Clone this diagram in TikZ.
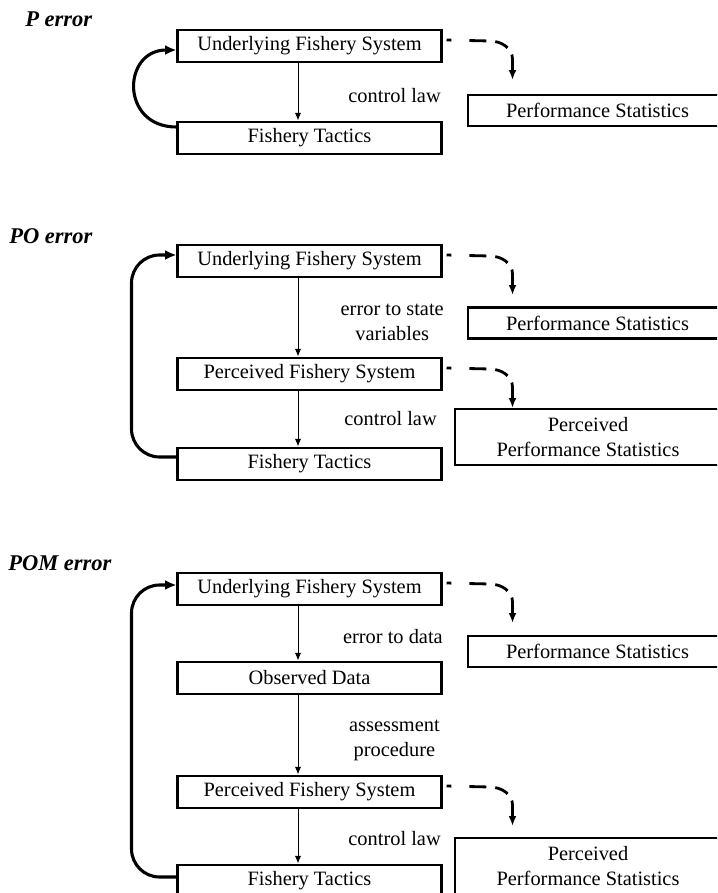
\documentclass[tikz,border=0pt]{standalone}
\usepackage{fontspec}
\setmainfont{Liberation Serif}
\usetikzlibrary{arrows.meta}

\begin{document}
\begin{tikzpicture}[x=0.025cm, y=-0.025cm,
		every node/.style={font=\fontsize{14.5}{17.7}\selectfont},
		sysbox/.style={draw, line width=2.1pt, minimum width=6.575cm, minimum height=0.8cm, inner sep=0pt},
		statbox/.style={draw, line width=2pt, minimum width=6.475cm, minimum height=0.775cm, inner sep=0pt},
		pstatbox/.style={statbox, minimum width=6.65cm, minimum height=1.4cm, align=center},
		flow/.style={line width=0.7pt, -{Latex[length=5.5pt,width=4.5pt]}},
		feedback/.style={line width=2.2pt, rounded corners=20pt, -{Latex[length=8pt,width=7pt]}},
		perfarrow/.style={line width=2pt, dash pattern=on 3.5pt off 12.8pt on 12pt off 6.4pt on 10pt off 5.7pt on 30pt, -{Latex[length=7pt,width=5.5pt]}},
		lbl/.style={inner sep=0pt, anchor=base east, align=center},
		errlbl/.style={inner sep=0pt, anchor=base west, font=\fontsize{16}{19}\selectfont\bfseries\itshape}]
		\useasboundingbox (0,0) rectangle (717,893);
		\clip (0,0) rectangle (717,893);
		\coordinate (axis) at (298,0);
		% P error
		\node [errlbl] (perr) at (25,27) {P error};
		\node [sysbox] (ufs1) at (309.5,46) {Underlying Fishery System};
		\node [sysbox] (ft1) at (309.5,138) {Fishery Tactics};
		\node [statbox] (perf1) at (597.5,110.5) {Performance Statistics};
		\node [lbl] (cl1) at (441,103) {control law};
		\draw [flow] (ufs1.south -| axis) -- (ft1.north -| axis);
		\draw [feedback] ([shift={(0,-11)}]ft1.west) .. controls (120,127) and (122,50) .. ([shift={(0,4)}]ufs1.west);
		\draw [perfarrow] ([shift={(4,-6)}]ufs1.east) -- ++(43,1) .. controls +(13,0) and +(0,-10) .. ++(23,18) -- ++(0,21);
		% PO error
		\node [errlbl] (poerr) at (9,243) {PO error};
		\node [sysbox] (ufs2) at (309.5,261) {Underlying Fishery System};
		\node [sysbox] (pfs2) at (309.5,374) {Perceived Fishery System};
		\node [sysbox] (ft2) at (309.5,464) {Fishery Tactics};
		\node [statbox] (perf2) at (597.5,323) {Performance Statistics};
		\node [pstatbox] (pperf2) at (588,437) {Perceived\\Performance Statistics};
		\node [lbl] (esv2) at (444,340) {error to state\\variables};
		\node [lbl] (cl2) at (437,425) {control law};
		\draw [flow] (ufs2.south -| axis) -- (pfs2.north -| axis);
		\draw [flow] (pfs2.south -| axis) -- (ft2.north -| axis);
		\draw [feedback] ([shift={(0,-7)}]ft2.west) -- ++(-45,0) |- ([shift={(0,-6)}]ufs2.west);
		\draw [perfarrow] ([shift={(4,-6)}]ufs2.east) -- ++(43,1) .. controls +(13,0) and +(0,-10) .. ++(23,18) -- ++(0,21);
		\draw [perfarrow] ([shift={(4,-6)}]pfs2.east) -- ++(43,1) .. controls +(13,0) and +(0,-10) .. ++(23,18) -- ++(0,21);
		% POM error
		\node [errlbl] (pomerr) at (8,570) {POM error};
		\node [sysbox] (ufs3) at (309.5,589) {Underlying Fishery System};
		\node [sysbox] (od3) at (309.5,678) {Observed Data};
		\node [sysbox] (pfs3) at (309.5,792) {Perceived Fishery System};
		\node [sysbox] (ft3) at (309.5,881) {Fishery Tactics};
		\node [statbox] (perf3) at (597.5,651.5) {Performance Statistics};
		\node [pstatbox] (pperf3) at (588,866) {Perceived\\Performance Statistics};
		\node [lbl] (etd3) at (443,643) {error to data};
		\node [lbl] (ap3) at (440,756) {assessment\\procedure};
		\node [lbl] (cl3) at (441,845) {control law};
		\draw [flow] (ufs3.south -| axis) -- (od3.north -| axis);
		\draw [flow] (od3.south -| axis) -- (pfs3.north -| axis);
		\draw [flow] (pfs3.south -| axis) -- (ft3.north -| axis);
		\draw [feedback] ([shift={(0,-4)}]ft3.west) -- ++(-45,0) |- ([shift={(0,-4)}]ufs3.west);
		\draw [perfarrow] ([shift={(4,-6)}]ufs3.east) -- ++(43,1) .. controls +(13,0) and +(0,-10) .. ++(23,18) -- ++(0,21);
		\draw [perfarrow] ([shift={(4,-6)}]pfs3.east) -- ++(43,1) .. controls +(13,0) and +(0,-10) .. ++(23,18) -- ++(0,21);
\end{tikzpicture}
\end{document}
